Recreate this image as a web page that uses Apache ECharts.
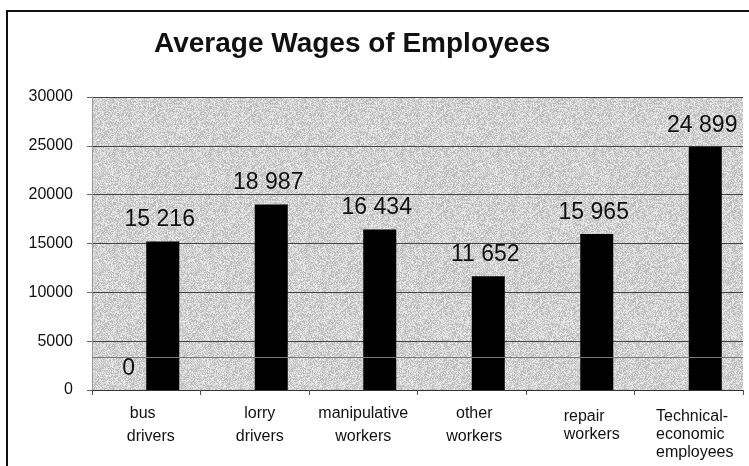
<!DOCTYPE html>
<html>
<head>
<meta charset="utf-8">
<script src="https://cdn.jsdelivr.net/npm/echarts@6/dist/echarts.min.js"></script>
<style>
  html, body { margin: 0; padding: 0; background: #ffffff; }
  #chart { width: 749px; height: 466px; }
</style>
</head>
<body>
<div id="chart"></div>
<script>
// Average wages by occupation group
const categories = [
  'bus\ndrivers',
  'lorry\ndrivers',
  'manipulative\nworkers',
  'other\nworkers',
  'repair\nworkers',
  'Technical-\neconomic\nemployees'
];
const series1Values = [0, null, null, null, null, null];
const series2Values = [15216, 18987, 16434, 11652, 15965, 24899];
const yTicks = { min: 0, max: 30000, interval: 5000 };

const FONT = "'Liberation Sans', Arial, Helvetica, sans-serif";

// Stippled grey fill for the plot area (deterministic hash dither)
function makeStipple() {
  const size = 96;
  const c = document.createElement('canvas');
  c.width = size; c.height = size;
  const ctx = c.getContext('2d');
  const img = ctx.createImageData(size, size);
  for (let y = 0; y < size; y++) {
    for (let x = 0; x < size; x++) {
      let n = Math.imul(x, 374761393) + Math.imul(y, 668265263);
      n = Math.imul(n ^ (n >>> 13), 1274126177);
      n = (n ^ (n >>> 16)) >>> 0;
      const v = 180 + (n % 60);
      const i = (y * size + x) * 4;
      img.data[i] = v; img.data[i + 1] = v; img.data[i + 2] = v; img.data[i + 3] = 255;
    }
  }
  ctx.putImageData(img, 0, 0);
  return c;
}

// Per-category label styling: line spacing, horizontal nudge, alignment
const labelRich = {
  c0_0: { lineHeight: 23, align: 'left', padding: [0, 0, 0, 12] },
  c0: { lineHeight: 23, align: 'left', padding: [0, 0, 0, 9] },
  c1: { lineHeight: 23, padding: [0, 0, 0, 10] },
  c2: { lineHeight: 23 },
  c3: { lineHeight: 23, padding: [0, 0, 0, 5] },
  c4: { lineHeight: 18, align: 'left', padding: [12, 0, 0, 23] },
  c5: { lineHeight: 18, align: 'left', padding: [12, 0, 0, 12] }
};
Object.keys(labelRich).forEach(k => {
  labelRich[k].fontSize = 16;
  labelRich[k].fontFamily = FONT;
  labelRich[k].color = '#111';
});

function categoryLabel(value, index) {
  return value.split('\n').map((line, j) => {
    const key = labelRich['c' + index + '_' + j] ? 'c' + index + '_' + j : 'c' + index;
    return '{' + key + '|' + line + '}';
  }).join('\n');
}

function spaced(v) {
  return String(v).replace(/\B(?=(\d{3})+(?!\d))/g, ' ');
}

const valueLabel = {
  show: true,
  position: 'top',
  distance: 10,
  offset: [-3, 0],
  fontSize: 23,
  fontFamily: FONT,
  color: '#111',
  formatter: p => spaced(p.value)
};

const chart = echarts.init(document.getElementById('chart'), null, { renderer: 'canvas' });
chart.setOption({
  animation: false,
  backgroundColor: '#ffffff',
  title: {
    text: 'Average Wages of Employees',
    left: 154,
    top: 30,
    padding: 0,
    textStyle: { fontSize: 28, fontWeight: 'bold', fontFamily: FONT, color: '#111' }
  },
  graphic: [{
    type: 'rect',
    silent: true,
    z: 100,
    shape: { x: 7, y: 11, width: 800, height: 520 },
    style: { fill: 'none', stroke: '#111', lineWidth: 2 }
  }],
  grid: {
    left: 92, right: 6, top: 97, bottom: 76,
    show: true,
    borderWidth: 0,
    backgroundColor: { image: makeStipple(), repeat: 'repeat' }
  },
  xAxis: {
    type: 'category',
    data: categories,
    axisLine: { show: true, lineStyle: { color: '#333', width: 1 } },
    axisTick: { show: true, length: 5, lineStyle: { color: '#555' } },
    axisLabel: {
      interval: 0,
      margin: 12,
      formatter: categoryLabel,
      rich: labelRich
    }
  },
  yAxis: {
    type: 'value',
    min: yTicks.min,
    max: yTicks.max,
    interval: yTicks.interval,
    axisLine: { show: true, lineStyle: { color: '#999', width: 1 } },
    axisTick: { show: true, length: 5, lineStyle: { color: '#666' } },
    axisLabel: {
      margin: 19, fontSize: 16, fontFamily: FONT, color: '#111',
      formatter: v => String(v)
    },
    splitLine: { show: true, lineStyle: { color: '#444', width: 1 } }
  },
  series: [
    {
      type: 'bar',
      data: series1Values,
      barWidth: 33,
      barGap: '0%',
      itemStyle: { color: '#000' },
      label: Object.assign({}, valueLabel, { offset: [-1, 0] })
    },
    {
      type: 'bar',
      data: series2Values,
      barWidth: 33,
      barGap: '0%',
      itemStyle: { color: '#000' },
      label: valueLabel,
      markLine: {
        silent: true,
        symbol: 'none',
        label: { show: false },
        lineStyle: { color: '#777', width: 1, type: 'solid' },
        data: [{ yAxis: 3400 }]
      }
    }
  ]
});
</script>
</body>
</html>
